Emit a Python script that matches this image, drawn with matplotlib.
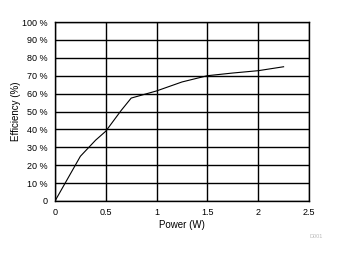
import matplotlib
matplotlib.use("Agg")
import matplotlib.pyplot as plt
from matplotlib.ticker import FuncFormatter

power = [0, 0.25, 0.4, 0.5, 0.65, 0.75, 1.0, 1.25, 1.5, 1.75, 2.0, 2.25]
efficiency = [0, 25, 34, 39, 50.5, 57.5, 61.5, 66.5, 70, 71.5, 72.8, 75]

x_ticks = [0, 0.5, 1, 1.5, 2, 2.5]
x_labels = ["0", "0.5", "1", "1.5", "2", "2.5"]
y_ticks = list(range(0, 101, 10))

plt.rcParams["font.family"] = ["Liberation Sans", "DejaVu Sans"]

fig = plt.figure(figsize=(3.38, 2.54), dpi=100)
ax = fig.add_axes([55 / 338, 1 - 201 / 254, 254 / 338, 179 / 254])

ax.plot(power, efficiency, color="black", linewidth=0.8)

ax.set_xlim(0, 2.5)
ax.set_ylim(0, 100)
ax.set_xticks(x_ticks)
ax.set_xticklabels(x_labels)
ax.set_yticks(y_ticks)
ax.yaxis.set_major_formatter(FuncFormatter(lambda v, p: "0" if v == 0 else f"{int(v)} %"))
ax.tick_params(length=0, labelsize=6.5, pad=5)
ax.grid(True, color="black", linewidth=1)
for s in ax.spines.values():
    s.set_linewidth(1)

ax.set_xlabel("Power (W)", fontsize=7, labelpad=2)
ax.set_ylabel("Efficiency (%)", fontsize=7)
ax.yaxis.set_label_coords(-0.135, 0.5)

fig.text(316 / 338, 1 - 237 / 254, "D001", fontsize=4, color="#bbbbbb", ha="center", va="center")

fig.savefig("out.png", dpi=100)
